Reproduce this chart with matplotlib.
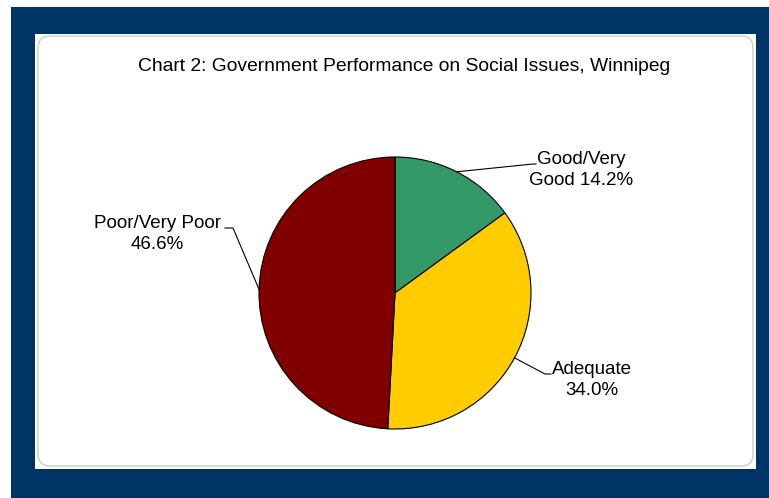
import numpy as np
import matplotlib
matplotlib.use("Agg")
import matplotlib.pyplot as plt
from matplotlib.patches import Rectangle, FancyBboxPatch

plt.rcParams['font.family'] = ['Liberation Sans', 'DejaVu Sans']

title = "Chart 2: Government Performance on Social Issues, Winnipeg"
categories = ["Good/Very\nGood", "Adequate", "Poor/Very Poor\n"]
values = [14.2, 34.0, 46.6]
colors = ["#339966", "#FFCC00", "#800000"]

W, H = 769, 498
fig = plt.figure(figsize=(W / 100, H / 100), dpi=100)
ax = fig.add_axes([0, 0, 1, 1])

def Y(y):
    return H - y

# backgrounds
ax.add_patch(Rectangle((11, Y(498)), 758, 491, facecolor="#003366", edgecolor="none", zorder=0))
ax.add_patch(Rectangle((35, Y(469)), 721, 435, facecolor="white", edgecolor="none", zorder=1))
ax.add_patch(FancyBboxPatch((38, Y(466)), 715, 430, boxstyle="round,pad=0,rounding_size=12",
                            facecolor="white", edgecolor="#D4D4D4", linewidth=1.2, zorder=2))

cx, cy, r = 395, Y(293), 136
wedges, _ = ax.pie(values, colors=colors, startangle=90, counterclock=False,
                   center=(cx, cy), radius=r,
                   wedgeprops=dict(edgecolor="black", linewidth=0.8, zorder=3))
for w in wedges:
    w.set_zorder(3)

# label layout: (elbow point, line end, text center)
layout = [
    ((533, 164), (536, 164), (581, 170)),
    ((545, 374), (551, 374), (592, 380)),
    ((233, 228), (225, 228), (157, 234)),
]
labels = [
    f"Good/Very\nGood {values[0]:.1f}%",
    f"Adequate\n{values[1]:.1f}%",
    f"Poor/Very Poor\n{values[2]:.1f}%",
]
for w, (elb, end, tc), lab in zip(wedges, layout, labels):
    mid = np.deg2rad((w.theta1 + w.theta2) / 2)
    px, py = cx + r * np.cos(mid), cy + r * np.sin(mid)
    ax.plot([px, elb[0], end[0]], [py, Y(elb[1]), Y(end[1])], color="black", lw=0.8, zorder=4)
    ax.text(tc[0], Y(tc[1]), lab, ha="center", va="center", fontsize=13.5,
            linespacing=1.3, zorder=5)

ax.text(404, Y(66), title, ha="center", va="center", fontsize=13.9, zorder=5)

ax.set_xlim(0, W)
ax.set_ylim(0, H)
ax.set_aspect("auto")
ax.axis("off")
fig.savefig("out.png", dpi=100, facecolor="white")
